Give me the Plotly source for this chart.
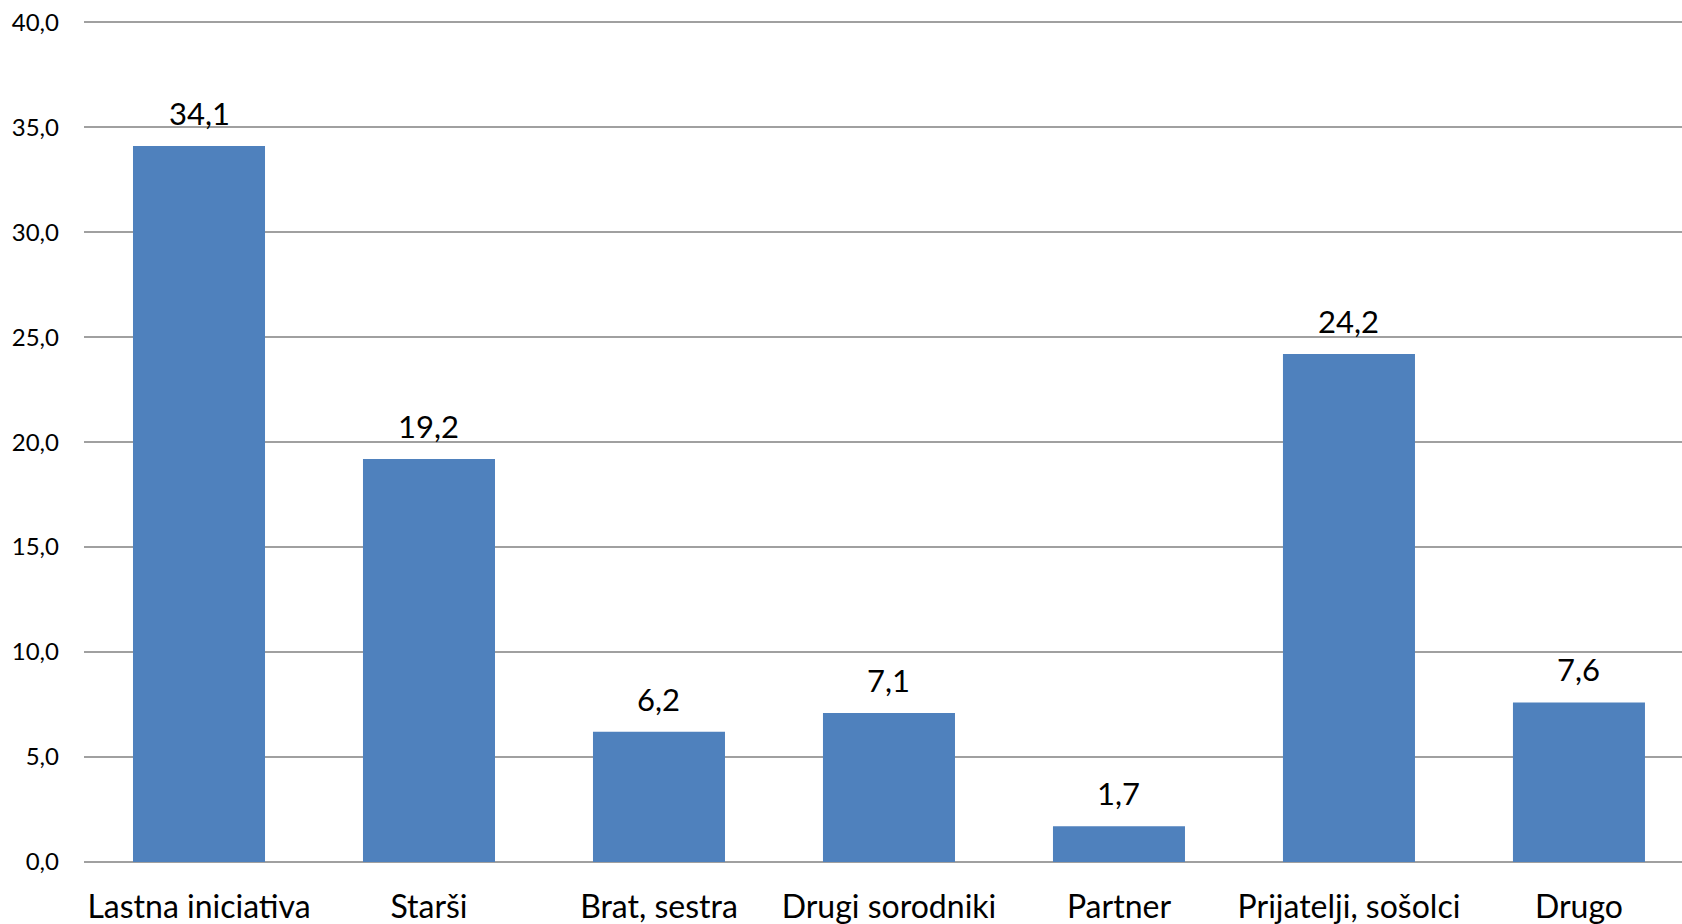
import plotly.graph_objects as go

categories = ["Lastna iniciativa", "Starši", "Brat, sestra", "Drugi sorodniki",
              "Partner", "Prijatelji, sošolci", "Drugo"]
values = [34.1, 19.2, 6.2, 7.1, 1.7, 24.2, 7.6]
y_ticks = [0, 5, 10, 15, 20, 25, 30, 35, 40]

fig = go.Figure(go.Bar(
    x=categories, y=values,
    marker=dict(color="#4F81BD", line=dict(width=0)),
    width=0.574,
))

for c, v in zip(categories, values):
    fig.add_annotation(
        x=c, y=v, text=f"{v:.1f}".replace(".", ","),
        showarrow=False, yanchor="bottom", yshift=12,
        font=dict(size=31, family="Lato", color="#000000"),
    )

fig.update_layout(
    width=1682, height=924,
    margin=dict(l=84, r=0, t=18, b=62),
    paper_bgcolor="white", plot_bgcolor="white",
    separators=",.",
    showlegend=False,
    font=dict(family="Lato", color="#000000"),
    xaxis=dict(
        range=[-0.5, 6.448],
        showgrid=False, showline=False, zeroline=False,
        tickfont=dict(size=32, family="Lato", color="#000000"),
        ticklabelstandoff=23,
        ticks="", automargin=False,
    ),
    yaxis=dict(
        range=[0, 40.2], tickvals=y_ticks, tickformat=".1f",
        showgrid=True, gridcolor="#A0A0A0", gridwidth=1.5,
        zeroline=True, zerolinecolor="#A0A0A0", zerolinewidth=1.5,
        showline=False,
        tickfont=dict(size=24, family="Lato", color="#000000"),
        ticklabelstandoff=24,
        ticks="", automargin=False,
    ),
)

fig.write_html("out.html", config={"displayModeBar": False},
               post_script="document.body.style.margin='0';document.body.style.overflow='hidden';")
